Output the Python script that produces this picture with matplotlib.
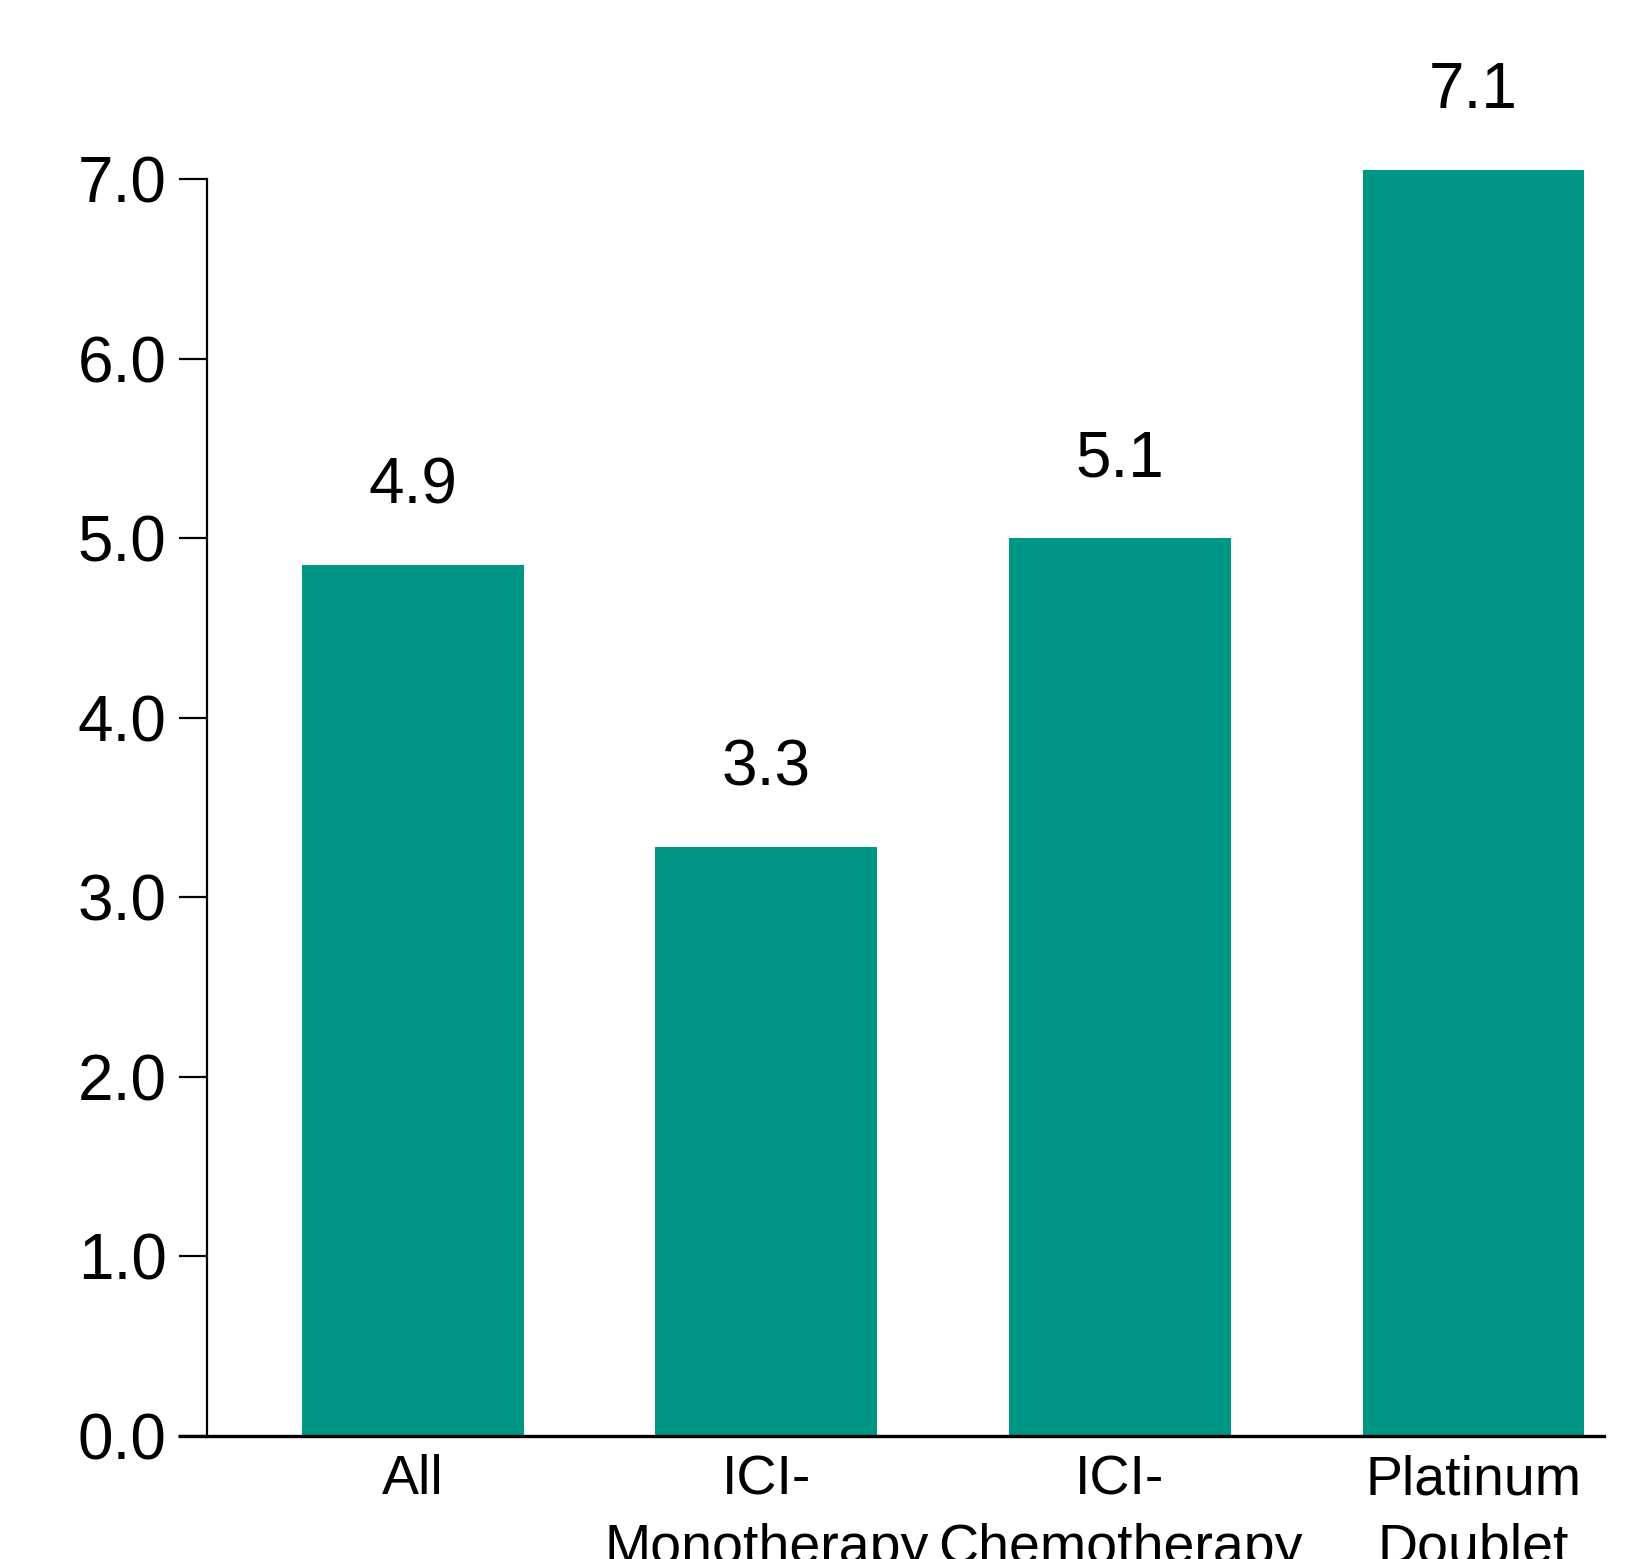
import numpy as np
import matplotlib.pyplot as plt

plt.rcParams['font.family'] = ['Liberation Sans', 'DejaVu Sans']

# data
categories = ['All', 'ICI-\nMonotherapy', 'ICI-\nChemotherapy', 'Platinum\nDoublet']
bar_values = [4.85, 3.28, 5.0, 7.05]
value_labels = ['4.9', '3.3', '5.1', '7.1']
y_ticks = [0.0, 1.0, 2.0, 3.0, 4.0, 5.0, 6.0, 7.0]

teal = '#009684'

fig = plt.figure(figsize=(16.4, 15.59), dpi=100)
ax = fig.add_axes([0.1262, 0.0789, 0.852, 0.910])

x = np.arange(len(categories))
ax.bar(x, bar_values, width=0.627, color=teal, zorder=2)

for xi, v, lab in zip(x, bar_values, value_labels):
    ax.text(xi, v + 0.27, lab, ha='center', va='bottom', fontsize=46)

ax.set_xlim(-0.582, 3.37)
ax.set_ylim(0, 7.9)
ax.set_yticks(y_ticks)
ax.set_yticklabels(['%.1f' % t for t in y_ticks], fontsize=46)
ax.set_xticks(x)
ax.set_xticklabels(categories, fontsize=40, linespacing=1.42)

ax.spines['top'].set_visible(False)
ax.spines['right'].set_visible(False)
ax.spines['left'].set_bounds(0, 7)
ax.spines['left'].set_linewidth(1.6)
ax.spines['bottom'].set_linewidth(2.4)
ax.tick_params(axis='y', length=20, width=1.6, pad=9)
ax.tick_params(axis='x', length=0, pad=13)

# extend the baseline left to meet the 0.0 tick
ax.plot([-0.664, -0.582], [0, 0], color='black', lw=2.4, clip_on=False, solid_capstyle='butt')

plt.savefig('out.png', dpi=100)
